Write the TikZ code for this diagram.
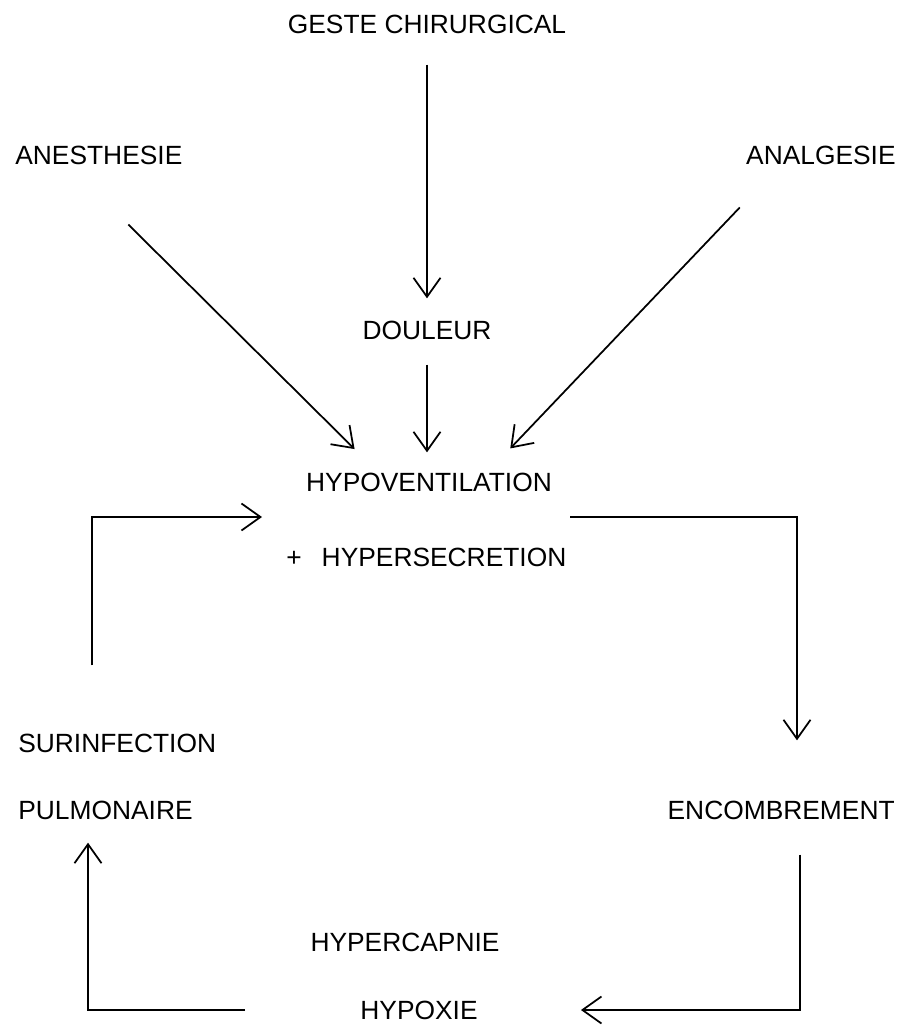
\documentclass[tikz,border=0pt]{standalone}
\usepackage{fontspec}
\setmainfont{Liberation Sans}
\usetikzlibrary{arrows.meta}
\tikzset{
  lbl/.style={inner sep=0pt, font=\fontsize{15}{18}\selectfont},
  arr/.style={line width=1pt, -{Straight Barb[length=3.8mm,width=5.4mm,line width=1pt]}}
}
\begin{document}
\begin{tikzpicture}[x=0.2mm,y=-0.2mm]
\useasboundingbox (0,0) rectangle (915,1030);
\node[lbl] (geste) at (427,24) {GESTE CHIRURGICAL};
\node[lbl, anchor=west] (anesth) at (15,155) {ANESTHESIE};
\node[lbl, anchor=east] (analg) at (896,155) {ANALGESIE};
\node[lbl] (douleur) at (427,330) {DOULEUR};
\node[lbl] (hypov) at (429,482) {HYPOVENTILATION};
\node[lbl, anchor=west] (hypersec) at (286,557) {+\hspace{4mm}HYPERSECRETION};
\node[lbl, anchor=west] (surinf) at (18,743) {SURINFECTION};
\node[lbl, anchor=west] (pulmo) at (18,810) {PULMONAIRE};
\node[lbl, anchor=east] (encomb) at (895,810) {ENCOMBREMENT};
\node[lbl] (hypercap) at (405,942) {HYPERCAPNIE};
\node[lbl] (hypox) at (419,1010) {HYPOXIE};

\coordinate (loopA) at (570,517);
\coordinate (loopB) at (262,517);

\draw[arr, shorten <=6.2mm, shorten >=4.4mm] (geste.south) -- (douleur.north);
\draw[arr, shorten <=5mm, shorten >=4mm] (douleur.south) -- (douleur.south |- hypov.north);
\draw[arr, shorten <=17mm, shorten >=6.6mm] ([xshift=10.6mm]anesth.south west) -- ([xshift=-10.2mm]hypov.north);
\draw[arr, shorten <=11.8mm, shorten >=6.6mm] ([xshift=-23.1mm]analg.south east) -- ([xshift=11.7mm]hypov.north);

\draw[arr, shorten >=12mm] (loopA) -| ([xshift=-19.6mm]encomb.north east);
\draw[arr, shorten <=7mm, shorten >=20.6mm] ([xshift=-19mm]encomb.south east) |- (hypox.east);
\draw[arr, shorten <=23mm, shorten >=4.6mm] (hypox.west) -| ([xshift=14mm]pulmo.south west);
\draw[arr, shorten <=13.6mm] ([xshift=14.8mm]surinf.north west) |- (loopB);
\end{tikzpicture}
\end{document}
